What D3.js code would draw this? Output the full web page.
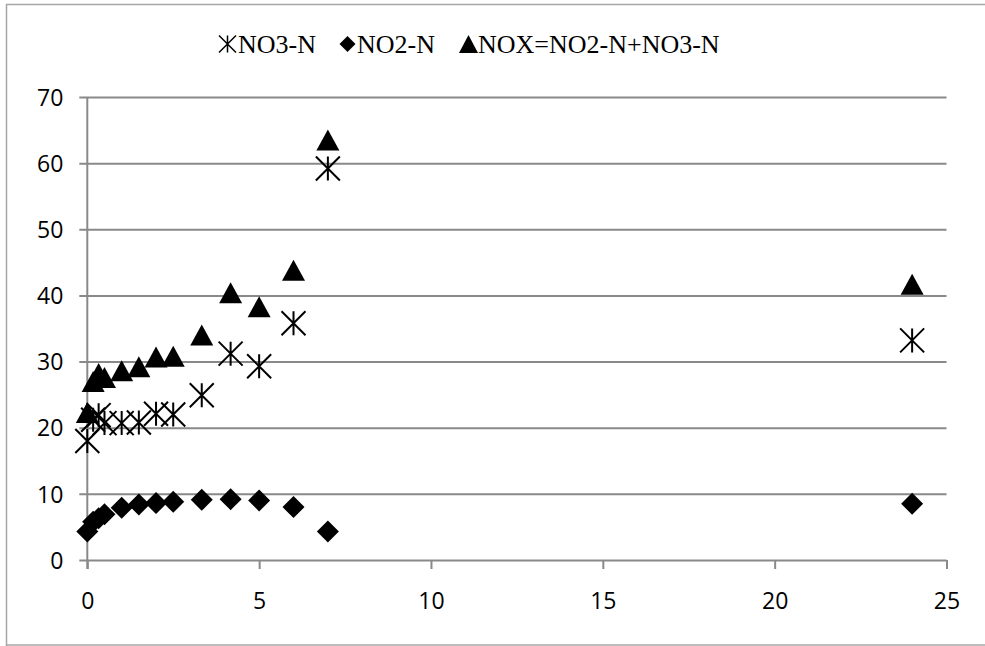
<!DOCTYPE html>
<html>
<head>
<meta charset="utf-8">
<script src="https://cdn.jsdelivr.net/npm/d3@7"></script>
<style>
  html, body { margin: 0; padding: 0; background: #fff; }
  svg { display: block; }
</style>
</head>
<body>
<svg id="chart" width="985" height="646"></svg>
<script>
// Sampling times (x) and measured nitrogen concentrations per series
const times = [0, 0.17, 0.33, 0.5, 1, 1.5, 2, 2.5, 3.33, 4.17, 5, 6, 7, 24];
const no3 = [18.0, 21.2, 21.9, 20.7, 20.7, 20.8, 22.1, 22.0, 24.9, 31.2, 29.3, 35.8, 59.2, 33.2];
const no2 = [4.3, 5.8, 6.3, 6.9, 7.9, 8.4, 8.6, 8.8, 9.1, 9.2, 9.0, 8.0, 4.3, 8.5];
const nox = [22.3, 27.0, 28.2, 27.6, 28.6, 29.2, 30.7, 30.8, 34.0, 40.4, 38.3, 43.8, 63.5, 41.7];

const seriesNames = ["NO3-N", "NO2-N", "NOX=NO2-N+NO3-N"];
const xTicks = [0, 5, 10, 15, 20, 25];
const yTicks = [0, 10, 20, 30, 40, 50, 60, 70];

const svg = d3.select("#chart");
const gridColor = "#898989";

const x = d3.scaleLinear().domain([0, 25]).range([87.3, 946.5]);
const y = d3.scaleLinear().domain([0, 70]).range([560, 97]);

// outer chart frame (left, top and bottom edges)
svg.append("path")
  .attr("d", "M6.5,1000 V4.5 H1000 M6.5,645 H1000")
  .attr("fill", "none")
  .attr("stroke", "#a6a6a6")
  .attr("stroke-width", 1.5);

// horizontal gridlines (y axis ticks extend left of the plot)
const yAxis = d3.axisLeft(y).tickValues(yTicks).tickSize(-(x(25) - x(0))).tickPadding(24);
const gy = svg.append("g").attr("transform", `translate(${x(0)},0)`).call(yAxis);
gy.select(".domain").remove();
gy.selectAll(".tick line")
  .attr("x1", -8)
  .attr("stroke", gridColor)
  .attr("stroke-width", 2);
gy.selectAll(".tick text")
  .attr("font-family", "'Open Sans', sans-serif")
  .attr("font-size", 23)
  .attr("fill", "#000")
  .attr("dy", "0.36em");

// vertical axis line
svg.append("line")
  .attr("x1", x(0)).attr("x2", x(0))
  .attr("y1", y(70)).attr("y2", y(0) + 9)
  .attr("stroke", gridColor).attr("stroke-width", 2);

// bottom axis with downward ticks
const xAxis = d3.axisBottom(x).tickValues(xTicks).tickSize(9).tickPadding(24);
const gx = svg.append("g").attr("transform", `translate(0,${y(0)})`).call(xAxis);
gx.select(".domain").remove();
gx.selectAll(".tick line").attr("stroke", gridColor).attr("stroke-width", 2);
gx.selectAll(".tick text")
  .attr("font-family", "'Open Sans', sans-serif")
  .attr("font-size", 23)
  .attr("fill", "#000");

// marker shapes, centred on (0,0)
function starPath(s) {
  const h = s / 2;
  return `M${-h},${-h}L${h},${h}M${h},${-h}L${-h},${h}M0,${-h}L0,${h}`;
}
function diamondPath(s) {
  const h = s / 2;
  return `M0,${-h}L${h},0L0,${h}L${-h},0Z`;
}
function trianglePath(w, hgt) {
  return `M0,${-hgt / 2}L${w / 2},${hgt / 2}L${-w / 2},${hgt / 2}Z`;
}

const plot = svg.append("g");

plot.selectAll(".no2").data(times.map((t, i) => [t, no2[i]])).join("path")
  .attr("class", "no2")
  .attr("transform", d => `translate(${x(d[0])},${y(d[1])})`)
  .attr("d", diamondPath(22))
  .attr("fill", "#000");

plot.selectAll(".nox").data(times.map((t, i) => [t, nox[i]])).join("path")
  .attr("class", "nox")
  .attr("transform", d => `translate(${x(d[0])},${y(d[1])})`)
  .attr("d", trianglePath(23, 21))
  .attr("fill", "#000");

plot.selectAll(".no3").data(times.map((t, i) => [t, no3[i]])).join("path")
  .attr("class", "no3")
  .attr("transform", d => `translate(${x(d[0])},${y(d[1])})`)
  .attr("d", starPath(24))
  .attr("fill", "none")
  .attr("stroke", "#000")
  .attr("stroke-width", 2);

// legend
const legend = svg.append("g").attr("font-family", "'Liberation Serif', 'Times New Roman', serif")
  .attr("font-size", 26).attr("fill", "#000");
const legendItems = [
  { name: seriesNames[0], mx: 227.5, tx: 238, shape: starPath(17), stroke: true },
  { name: seriesNames[1], mx: 347.5, tx: 357, shape: diamondPath(16), stroke: false },
  { name: seriesNames[2], mx: 468.5, tx: 478, shape: trianglePath(19, 18), stroke: false }
];
legendItems.forEach(it => {
  legend.append("path")
    .attr("transform", `translate(${it.mx},44)`)
    .attr("d", it.shape)
    .attr("fill", it.stroke ? "none" : "#000")
    .attr("stroke", it.stroke ? "#000" : "none")
    .attr("stroke-width", 1.5);
  legend.append("text").attr("x", it.tx).attr("y", 53).text(it.name);
});
</script>
</body>
</html>
